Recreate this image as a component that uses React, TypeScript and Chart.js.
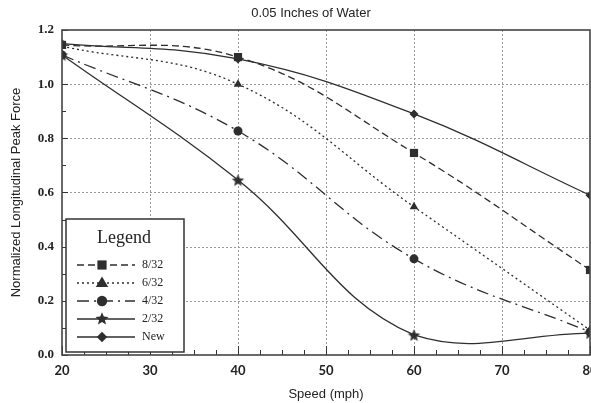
import React, { useEffect, useRef } from "react";
import { Chart, registerables } from "chart.js";

Chart.register(...registerables);

// ---------- data ----------
const speeds = [20, 40, 60, 80];
const series832 = [1.145, 1.1, 0.746, 0.314];
const series632 = [1.14, 1.0, 0.547, 0.092];
const series432 = [1.108, 0.827, 0.355, 0.085];
const series232 = [1.108, 0.646, 0.074, 0.081];
const seriesNew = [1.15, 1.093, 0.89, 0.59];
const seriesLabels = ["8/32", "6/32", "4/32", "2/32", "New"];
const chartTitle = "0.05 Inches of Water";
const xTitle = "Speed (mph)";
const yTitle = "Normalized Longitudinal Peak Force";
const legendTitle = "Legend";

const INK = "#2e2e2e";

function makeStar(r: number): HTMLCanvasElement {
  const size = Math.ceil(2 * r + 2);
  const c = document.createElement("canvas");
  c.width = size;
  c.height = size;
  const ctx = c.getContext("2d")!;
  drawStar(ctx, size / 2, size / 2 + r * 0.1, r);
  return c;
}

function drawStar(ctx: CanvasRenderingContext2D, cx: number, cy: number, r: number) {
  const inner = r * 0.45;
  ctx.beginPath();
  for (let i = 0; i < 10; i++) {
    const rad = i % 2 === 0 ? r : inner;
    const a = -Math.PI / 2 + (i * Math.PI) / 5;
    const px = cx + rad * Math.cos(a);
    const py = cy + rad * Math.sin(a);
    if (i === 0) ctx.moveTo(px, py);
    else ctx.lineTo(px, py);
  }
  ctx.closePath();
  ctx.fillStyle = INK;
  ctx.fill();
}

function drawMarker(ctx: CanvasRenderingContext2D, style: string, x: number, y: number, r: number) {
  ctx.save();
  ctx.fillStyle = INK;
  ctx.beginPath();
  if (style === "rect") {
    const s = r / Math.SQRT2;
    ctx.rect(x - s, y - s, 2 * s, 2 * s);
    ctx.fill();
  } else if (style === "triangle") {
    ctx.moveTo(x, y - r);
    ctx.lineTo(x + r * 0.95, y + r * 0.6);
    ctx.lineTo(x - r * 0.95, y + r * 0.6);
    ctx.closePath();
    ctx.fill();
  } else if (style === "circle") {
    ctx.arc(x, y, r * 0.8, 0, Math.PI * 2);
    ctx.fill();
  } else if (style === "rectRot") {
    ctx.moveTo(x, y - r * 0.8);
    ctx.lineTo(x + r * 0.8, y);
    ctx.lineTo(x, y + r * 0.8);
    ctx.lineTo(x - r * 0.8, y);
    ctx.closePath();
    ctx.fill();
  } else if (style === "star") {
    drawStar(ctx, x, y, r * 1.05);
  }
  ctx.restore();
}

const framePlugin = {
  id: "frameAndGrid",
  beforeDatasetsDraw(chart: any) {
    const { ctx, chartArea: ca, scales } = chart;
    const xs = scales.x;
    const ys = scales.y;
    ctx.save();
    ctx.strokeStyle = "#9a9a9a";
    ctx.lineWidth = 1;
    ctx.setLineDash([2, 2]);
    for (let v = 30; v < 80; v += 10) {
      const px = Math.round(xs.getPixelForValue(v)) + 0.5;
      ctx.beginPath();
      ctx.moveTo(px, ca.top);
      ctx.lineTo(px, ca.bottom);
      ctx.stroke();
    }
    for (let i = 1; i < 6; i++) {
      const py = Math.round(ys.getPixelForValue(i * 0.2)) + 0.5;
      ctx.beginPath();
      ctx.moveTo(ca.left, py);
      ctx.lineTo(ca.right, py);
      ctx.stroke();
    }
    ctx.restore();
  },
  afterDatasetsDraw(chart: any) {
    const { ctx, chartArea: ca, scales } = chart;
    const xs = scales.x;
    const ys = scales.y;
    ctx.save();
    ctx.strokeStyle = "#333";
    ctx.lineWidth = 1;
    ctx.setLineDash([]);
    // bottom ticks
    for (let k = 0; k <= 24; k++) {
      const v = 20 + k * 2.5;
      const px = Math.round(xs.getPixelForValue(v)) + 0.5;
      const len = k % 4 === 0 ? 9 : 5;
      ctx.beginPath();
      ctx.moveTo(px, ca.bottom);
      ctx.lineTo(px, ca.bottom - len);
      ctx.stroke();
    }
    // left ticks
    for (let k = 0; k <= 12; k++) {
      const py = Math.round(ys.getPixelForValue(k * 0.1)) + 0.5;
      const len = k % 2 === 0 ? 6 : 4;
      ctx.beginPath();
      ctx.moveTo(ca.left, py);
      ctx.lineTo(ca.left + len, py);
      ctx.stroke();
    }
    // frame
    ctx.lineWidth = 1.6;
    ctx.strokeStyle = "#444";
    ctx.strokeRect(ca.left, ca.top, ca.right - ca.left, ca.bottom - ca.top);
    ctx.restore();
  },
  afterDraw(chart: any) {
    const { ctx, chartArea: ca } = chart;
    ctx.save();
    // title
    ctx.fillStyle = "#222";
    ctx.font = "13px 'Liberation Sans', Arial, sans-serif";
    ctx.textAlign = "center";
    ctx.textBaseline = "middle";
    ctx.fillText(chartTitle, 311, 13);

    // legend box
    const bx = ca.left + 4;
    const by = ca.bottom - 136;
    const bw = 118;
    const bh = 133;
    ctx.fillStyle = "#fff";
    ctx.fillRect(bx, by, bw, bh);
    ctx.strokeStyle = "#333";
    ctx.lineWidth = 1.5;
    ctx.strokeRect(bx, by, bw, bh);
    ctx.fillStyle = "#222";
    ctx.font = "18px 'Liberation Serif', 'DejaVu Serif', serif";
    ctx.textAlign = "center";
    ctx.textBaseline = "middle";
    ctx.fillText(legendTitle, bx + 58, by + 19);
    const ds = chart.data.datasets;
    ds.forEach((d: any, i: number) => {
      const y = by + 46 + i * 18;
      ctx.save();
      ctx.strokeStyle = INK;
      ctx.lineWidth = 1.3;
      ctx.setLineDash(d.borderDash || []);
      ctx.beginPath();
      ctx.moveTo(bx + 11, y);
      ctx.lineTo(bx + 69, y);
      ctx.stroke();
      ctx.restore();
      drawMarker(ctx, d.legendStyle, bx + 36, y, 6.5);
      ctx.fillStyle = "#222";
      ctx.font = "12px 'Liberation Serif', 'DejaVu Serif', serif";
      ctx.textAlign = "left";
      ctx.fillText(d.label, bx + 76, y);
    });
    ctx.restore();
  },
};

export default function App() {
  const ref = useRef<HTMLCanvasElement | null>(null);

  useEffect(() => {
    document.body.style.margin = "0";
    const star = makeStar(6.5);
    const pts = (arr: number[]) => speeds.map((s, i) => ({ x: s, y: arr[i] }));
    const base = {
      borderColor: INK,
      backgroundColor: INK,
      pointBackgroundColor: INK,
      pointBorderColor: INK,
      borderWidth: 1.3,
      pointBorderWidth: 0,
      tension: 0.4,
      fill: false,
    };
    const chart = new Chart(ref.current!, {
      type: "line",
      data: {
        datasets: [
          { ...base, label: seriesLabels[0], data: pts(series832), borderDash: [7, 4], pointStyle: "rect", pointRadius: 5.8, legendStyle: "rect" } as any,
          { ...base, label: seriesLabels[1], data: pts(series632), borderDash: [2, 3], pointStyle: "triangle", pointRadius: 5, legendStyle: "triangle" } as any,
          { ...base, label: seriesLabels[2], data: pts(series432), borderDash: [12, 5, 2, 5], pointStyle: "circle", pointRadius: 4.5, legendStyle: "circle" } as any,
          { ...base, label: seriesLabels[3], data: pts(series232), pointStyle: star, pointRadius: 6, legendStyle: "star" } as any,
          { ...base, label: seriesLabels[4], data: pts(seriesNew), pointStyle: "rectRot", pointRadius: 4.5, legendStyle: "rectRot" } as any,
        ],
      },
      options: {
        animation: false,
        responsive: false,
        maintainAspectRatio: false,
        layout: { padding: { top: 30, right: 0, left: 0, bottom: 0 } },
        plugins: { legend: { display: false }, title: { display: false }, tooltip: { enabled: false } },
        scales: {
          x: {
            type: "linear",
            min: 20,
            max: 80,
            ticks: {
              stepSize: 10,
              color: "#222",
              font: { family: "Lato, 'DejaVu Sans', sans-serif", size: 13, weight: "bold" },
              padding: 8,
              maxRotation: 0,
            },
            grid: { display: false, drawTicks: false },
            border: { display: false },
            title: {
              display: true,
              text: xTitle,
              color: "#222",
              font: { family: "'Liberation Sans', Arial, sans-serif", size: 13 },
              padding: { top: 0, bottom: 1 },
            },
            afterFit: (s: any) => {
              s.height = 48;
              s.paddingLeft = 0;
              s.paddingRight = 0;
            },
          },
          y: {
            type: "linear",
            min: 0,
            max: 1.2,
            ticks: {
              stepSize: 0.2,
              color: "#222",
              callback: (v: any) => Number(v).toFixed(1),
              font: { family: "'Liberation Serif', 'DejaVu Serif', serif", size: 13, weight: "bold" },
              padding: 8,
            },
            grid: { display: false, drawTicks: false },
            border: { display: false },
            title: {
              display: true,
              text: yTitle,
              color: "#222",
              font: { family: "'Liberation Sans', Arial, sans-serif", size: 13 },
              padding: { top: 9, bottom: 0 },
            },
            afterFit: (s: any) => {
              s.width = 62;
              s.paddingTop = 0;
              s.paddingBottom = 0;
            },
          },
        },
      },
      plugins: [framePlugin],
    });
    return () => chart.destroy();
  }, []);

  return (
    <div style={{ width: 591, height: 403, overflow: "hidden", background: "#fff" }}>
      <canvas ref={ref} width={596} height={403} style={{ display: "block" }} />
    </div>
  );
}
